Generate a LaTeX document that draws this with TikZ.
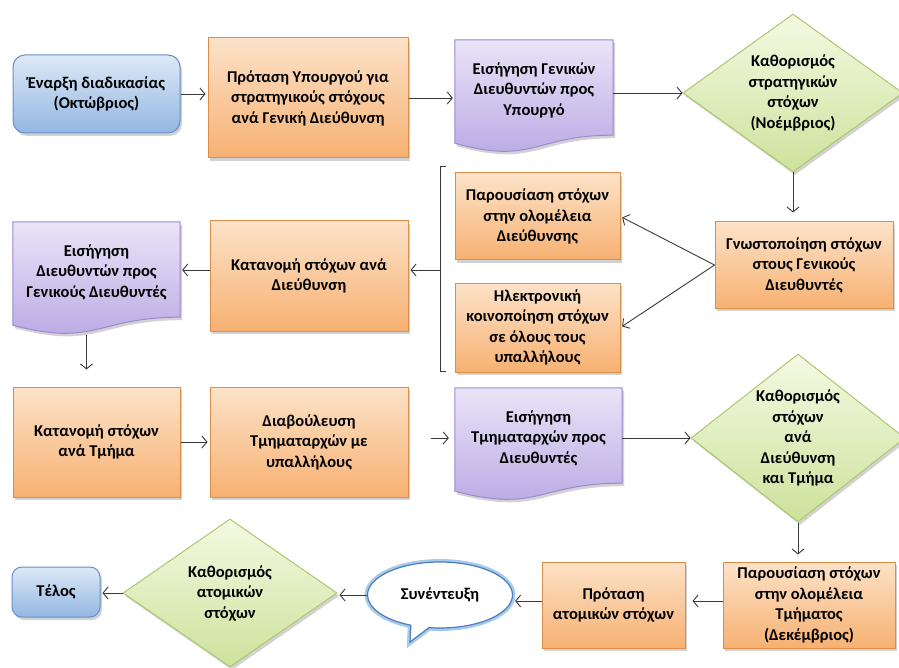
\documentclass[tikz,border=0pt]{standalone}
\usepackage{fontspec}
\setmainfont{Carlito}
\usetikzlibrary{shapes.geometric,shapes.callouts,shadows,arrows.meta,calc}
\pgfdeclarelayer{background}
\pgfsetlayers{background,main}

\definecolor{orTop}{HTML}{FCE2C8}
\definecolor{orBot}{HTML}{F7B172}
\definecolor{orEdge}{HTML}{DA8E48}
\definecolor{puTop}{HTML}{EAE4F8}
\definecolor{puBot}{HTML}{B6A6E2}
\definecolor{puEdge}{HTML}{9C8ACF}
\definecolor{blTop}{HTML}{DDE9F7}
\definecolor{blBot}{HTML}{93B6E2}
\definecolor{blEdge}{HTML}{6890C8}
\definecolor{grTop}{HTML}{F4F9E2}
\definecolor{grBot}{HTML}{CDE29C}
\definecolor{grEdge}{HTML}{ACC86F}
\definecolor{bbEdge}{HTML}{4A7EBB}
\definecolor{bbGlow}{HTML}{A9CBEB}
\definecolor{lineGray}{HTML}{3A3A3A}

\tikzset{
  lbl/.style={align=center, font=\bfseries\fontsize{16.5}{20.5}\selectfont, text=black},
  softshadow/.style={drop shadow={shadow xshift=2pt, shadow yshift=-3pt, opacity=.35}},
  orbox/.style={lbl, rectangle, inner sep=0pt, draw=orEdge, line width=1pt,
    top color=orTop, bottom color=orBot, softshadow},
  startbox/.style={lbl, rectangle, inner sep=0pt, rounded corners=12pt, draw=blEdge,
    line width=1pt, top color=blTop, bottom color=blBot, softshadow},
  decision/.style={lbl, diamond, inner sep=0pt, draw=grEdge, line width=1pt,
    top color=grTop, bottom color=grBot, softshadow},
  doctext/.style={lbl, rectangle, inner sep=0pt},
  docshape/.style={draw=puEdge, line width=1pt, top color=puTop, bottom color=puBot, softshadow},
  bubble/.style={lbl, ellipse callout, draw=bbEdge, line width=1.2pt, fill=white,
    preaction={draw=bbGlow, line width=6pt}},
  flow/.style={draw=lineGray, line width=0.9pt, -{Straight Barb[length=5pt,width=12pt]}},
  bracketline/.style={draw=lineGray, line width=0.9pt}
}

% document symbol with a wavy lower edge, drawn round a text node
\newcommand\docoutline[1]{%
  \path[docshape] (#1.north west) -- (#1.north east)
    -- ($(#1.north east)!0.95!(#1.south east)$)
    .. controls ($(#1.north)!0.95!(#1.south)$) and ($(#1.north)!1.25!(#1.south)$)
    .. ($(#1.north west)!1.03!(#1.south west)$) -- cycle;}

\begin{document}
\begin{tikzpicture}[x=1pt,y=-1pt]
\useasboundingbox (0,0) rectangle (899,668);
\begin{pgfonlayer}{background}
  \fill[white] (0,0) rectangle (899,668);
\end{pgfonlayer}

% row 1
\node[startbox, minimum width=167pt, minimum height=78pt] (start) at (96.5,94)
  {Έναρξη διαδικασίας\\(Οκτώβριος)};
\node[orbox, minimum width=200pt, minimum height=120pt] (propose) at (308,98)
  {Πρόταση Υπουργού για\\στρατηγικούς στόχους\\ανά Γενική Διεύθυνση};
\node[doctext, minimum width=158pt, minimum height=100pt] (gdrec) at (534,90)
  {Εισήγηση Γενικών\\Διευθυντών προς\\Υπουργό};
\node[decision, shape aspect=1.4, minimum width=220pt, minimum height=158pt] (stratgoals) at (793,93)
  {Καθορισμός\\στρατηγικών\\στόχων\\(Νοέμβριος)};

% row 2
\node[orbox, minimum width=178pt, minimum height=86pt] (notify) at (804,265)
  {Γνωστοποίηση στόχων\\στους Γενικούς\\Διευθυντές};
\node[orbox, minimum width=165pt, minimum height=87pt] (present) at (537.5,216.5)
  {Παρουσίαση στόχων\\στην ολομέλεια\\Διεύθυνσης};
\node[orbox, minimum width=165pt, minimum height=89pt] (email) at (537.5,327.5)
  {Ηλεκτρονική\\κοινοποίηση στόχων\\σε όλους τους\\υπαλλήλους};
\node[orbox, minimum width=198pt, minimum height=110pt] (alloc) at (309,276)
  {Κατανομή στόχων ανά\\Διεύθυνση};
\node[doctext, minimum width=167pt, minimum height=100pt] (drec) at (96.5,272)
  {Εισήγηση\\Διευθυντών προς\\Γενικούς Διευθυντές};

% row 3
\node[orbox, minimum width=167pt, minimum height=110pt] (allocdept) at (96.5,442)
  {Κατανομή στόχων\\ανά Τμήμα};
\node[orbox, minimum width=198pt, minimum height=110pt] (consult) at (309,442)
  {Διαβούλευση\\Τμηματαρχών με\\υπαλλήλους};
\node[doctext, minimum width=167pt, minimum height=100pt] (hrec) at (538.5,438)
  {Εισήγηση\\Τμηματαρχών προς\\Διευθυντές};
\node[decision, shape aspect=1.25, minimum width=214pt, minimum height=168pt] (deptgoals) at (798,438)
  {Καθορισμός\\στόχων\\ανά\\Διεύθυνση\\και Τμήμα};

% row 4
\node[orbox, minimum width=172pt, minimum height=86pt] (presentdept) at (809,605)
  {Παρουσίαση στόχων\\στην ολομέλεια\\Τμήματος\\(Δεκέμβριος)};
\node[orbox, minimum width=143pt, minimum height=86pt] (indprop) at (613.5,605)
  {Πρόταση\\ατομικών στόχων};
\node[bubble, minimum width=145pt, minimum height=66pt, callout absolute pointer={(410,642)}] (interview) at (440,595)
  {Συνέντευξη};
\node[decision, shape aspect=1.45, minimum width=214pt, minimum height=148pt] (indgoals) at (230,593)
  {Καθορισμός\\ατομικών\\στόχων};
\node[startbox, rounded corners=10pt, minimum width=88pt, minimum height=50pt] (finish) at (56,592)
  {Τέλος};

% document outlines behind their texts
\begin{pgfonlayer}{background}
  \docoutline{gdrec}
  \docoutline{drec}
  \docoutline{hrec}
\end{pgfonlayer}

% bracket grouping the two notification steps
\coordinate (brtop) at (446,166);
\coordinate (brbot) at (446,371);
\coordinate (brmid) at (432,270);
\draw[bracketline] (brtop) -- (440,166) -- (440,371) -- (brbot);
\draw[bracketline] (440,270) -- (brmid);

% connectors
\draw[flow, shorten >=2pt] (start.east) -- (start.east -| propose.west);
\draw[flow, shorten >=2pt] (propose.east) -- (propose.east -| gdrec.west);
\draw[flow] (stratgoals.west -| gdrec.east) -- (stratgoals.west);
\draw[flow, shorten >=9pt] (stratgoals.south) -- (stratgoals.south |- notify.north);
\draw[flow, shorten >=2pt] (notify.west) -- (present.east);
\draw[flow, shorten >=2pt] (notify.west) -- (email.east);
\draw[flow, shorten >=2pt] (brmid) -- (brmid -| alloc.east);
\draw[flow, shorten >=2pt] (alloc.west |- brmid) -- (brmid -| drec.east);
\draw[flow, shorten <=13pt, shorten >=17pt] ([xshift=-10pt]drec.south) -- ([xshift=-10pt]drec.south |- allocdept.north);
\draw[flow, shorten >=2pt] (allocdept.east) -- (allocdept.east -| consult.west);
\draw[flow, shorten <=22pt, shorten >=6pt] (hrec.west -| consult.east) -- (hrec.west);
\draw[flow] (hrec.east) -- (hrec.east -| deptgoals.west);
\draw[flow, shorten >=7pt] (deptgoals.south) -- (deptgoals.south |- presentdept.north);
\draw[flow, shorten >=7pt] ([yshift=4pt]presentdept.west) -- ([yshift=4pt]presentdept.west -| indprop.east);
\draw[flow, shorten >=2pt] ([yshift=4pt]indprop.west) -- ([yshift=4pt]indprop.west -| interview.east);
\draw[flow, shorten >=2pt] (interview.west) -- (interview.west -| indgoals.east);
\draw[flow, shorten >=2pt] (indgoals.west) -- (indgoals.west -| finish.east);
\end{tikzpicture}
\end{document}
